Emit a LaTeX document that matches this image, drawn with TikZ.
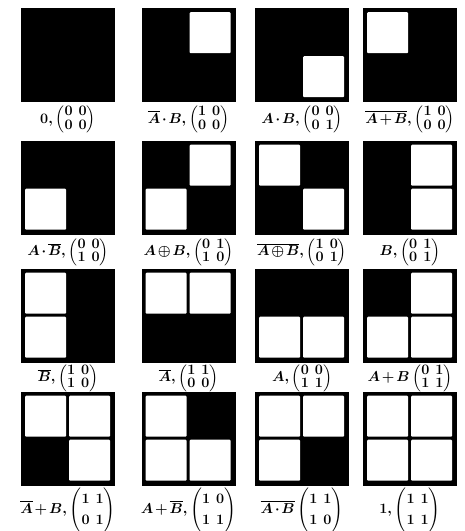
\documentclass[tikz,border=0pt]{standalone}
\usepackage{amsmath,amssymb}
\usepackage{tikz}
\usetikzlibrary{positioning,calc}
% white cell #2 (column), #3 (row) inside square #1
\newcommand{\wcell}[3]{\fill[white, rounded corners=1pt] ($(#1.north west)+(4+#2*44,4+#3*44)$) rectangle +(41,41);}

\begin{document}
\begin{tikzpicture}[x=1pt, y=-1pt,
  sq/.style={draw=black, fill=black, minimum size=93pt, inner sep=0pt, line width=0.6pt},
  lbl/.style={inner sep=0pt, font=\boldmath\fontsize{15}{15}\selectfont,
    execute at begin node={\def\arraystretch{0.92}\setlength{\arraycolsep}{3pt}\medmuskip=2mu}},
  tall/.style={inner sep=0pt, font=\boldmath\fontsize{15}{15}\selectfont,
    execute at begin node={\def\arraystretch{1.4}\setlength{\arraycolsep}{3pt}\medmuskip=2mu}}]

\useasboundingbox (0,0) rectangle (464,531);

% Squares
\node[sq] (s1) at (68,55) {};
\node[sq] (s2) at (188.5,55) {};
\node[sq] (s3) at (302,55) {};
\node[sq] (s4) at (410,55) {};
\node[sq] (s5) at (68,187.5) {};
\node[sq] (s6) at (188.5,187.5) {};
\node[sq] (s7) at (302,187.5) {};
\node[sq] (s8) at (410,187.5) {};
\node[sq] (s9) at (68,315.5) {};
\node[sq] (s10) at (188.5,315.5) {};
\node[sq] (s11) at (302,315.5) {};
\node[sq] (s12) at (410,315.5) {};
\node[sq] (s13) at (68,438.5) {};
\node[sq] (s14) at (188.5,438.5) {};
\node[sq] (s15) at (302,438.5) {};
\node[sq] (s16) at (410,438.5) {};

% White cells
\wcell{s2}{1}{0}
\wcell{s3}{1}{1}
\wcell{s4}{0}{0}
\wcell{s5}{0}{1}
\wcell{s6}{1}{0} \wcell{s6}{0}{1}
\wcell{s7}{0}{0} \wcell{s7}{1}{1}
\wcell{s8}{1}{0} \wcell{s8}{1}{1}
\wcell{s9}{0}{0} \wcell{s9}{0}{1}
\wcell{s10}{0}{0} \wcell{s10}{1}{0}
\wcell{s11}{0}{1} \wcell{s11}{1}{1}
\wcell{s12}{1}{0} \wcell{s12}{0}{1} \wcell{s12}{1}{1}
\wcell{s13}{0}{0} \wcell{s13}{1}{0} \wcell{s13}{1}{1}
\wcell{s14}{0}{0} \wcell{s14}{0}{1} \wcell{s14}{1}{1}
\wcell{s15}{0}{0} \wcell{s15}{1}{0} \wcell{s15}{0}{1}
\wcell{s16}{0}{0} \wcell{s16}{1}{0} \wcell{s16}{0}{1} \wcell{s16}{1}{1}

% Labels
\node[lbl, below=4pt of s1] (l1) {$0,\begin{pmatrix}0&0\\0&0\end{pmatrix}$};
\node[lbl, below=4pt of s2] (l2) {$\overline{A}\cdot B,\begin{pmatrix}1&0\\0&0\end{pmatrix}$};
\node[lbl, below=4pt of s3] (l3) {$A\cdot B,\begin{pmatrix}0&0\\0&1\end{pmatrix}$};
\node[lbl, below=4pt of s4] (l4) {$\overline{A+B},\begin{pmatrix}1&0\\0&0\end{pmatrix}$};
\node[lbl, below=4pt of s5] (l5) {$A\cdot\overline{B},\begin{pmatrix}0&0\\1&0\end{pmatrix}$};
\node[lbl, below=4pt of s6] (l6) {$A\oplus B,\begin{pmatrix}0&1\\1&0\end{pmatrix}$};
\node[lbl, below=4pt of s7] (l7) {$\overline{A\oplus B},\begin{pmatrix}1&0\\0&1\end{pmatrix}$};
\node[lbl, below=4pt of s8] (l8) {$B,\begin{pmatrix}0&1\\0&1\end{pmatrix}$};
\node[lbl, below=2pt of s9] (l9) {$\overline{B},\begin{pmatrix}1&0\\1&0\end{pmatrix}$};
\node[lbl, below=2pt of s10] (l10) {$\overline{A},\begin{pmatrix}1&1\\0&0\end{pmatrix}$};
\node[lbl, below=2pt of s11] (l11) {$A,\begin{pmatrix}0&0\\1&1\end{pmatrix}$};
\node[lbl, below=2pt of s12] (l12) {$A+B\begin{pmatrix}0&1\\1&1\end{pmatrix}$};
\node[tall, below=2pt of s13] (l13) {$\overline{A}+B,\begin{pmatrix}1&1\\0&1\end{pmatrix}$};
\node[tall, below=2pt of s14] (l14) {$A+\overline{B},\begin{pmatrix}1&0\\1&1\end{pmatrix}$};
\node[tall, below=2pt of s15] (l15) {$\overline{A\cdot B}\begin{pmatrix}1&1\\1&0\end{pmatrix}$};
\node[tall, below=2pt of s16] (l16) {$1,\begin{pmatrix}1&1\\1&1\end{pmatrix}$};

\end{tikzpicture}
\end{document}
